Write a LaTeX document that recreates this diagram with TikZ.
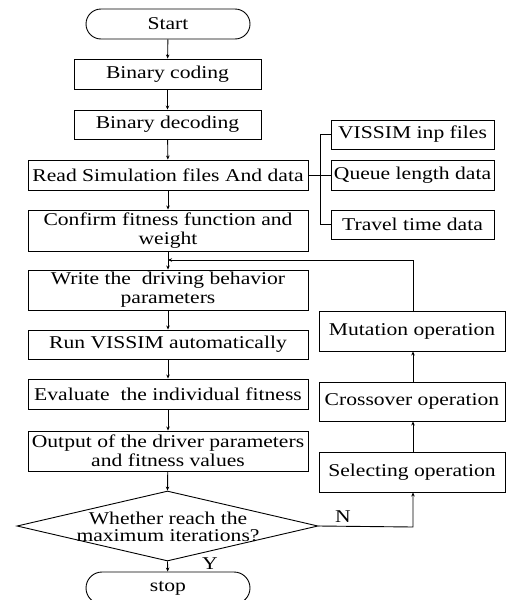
\documentclass[tikz,border=0pt]{standalone}
\usepackage{fontspec}
\setmainfont[FakeStretch=1.2]{Liberation Serif}
\usetikzlibrary{shapes.geometric,shapes.misc,arrows.meta}
\begin{document}
\begin{tikzpicture}[x=1pt,y=-1pt,
  every node/.style={font=\fontsize{18}{19}\selectfont},
  box/.style={draw,line width=0.9pt,inner sep=0pt,align=center,minimum width=#1},
  box/.default=280pt,
  term/.style={draw,line width=0.9pt,rounded rectangle,minimum width=164pt,minimum height=30pt,inner sep=0pt},
  dia/.style={draw,line width=0.9pt,diamond,minimum width=301pt,minimum height=70pt,inner sep=0pt},
  lbl/.style={inner sep=0pt},
  arr/.style={line width=0.9pt,-{Stealth[length=4pt,width=3.5pt]}},
  ln/.style={line width=0.9pt}]
\useasboundingbox (0,0) rectangle (512,600);
\node[term] (start) at (168,24) {Start};
\node[box=187pt,minimum height=30pt] (bc) at (167.5,74) {Binary coding};
\node[box=187pt,minimum height=29pt] (bd) at (167.5,124.5) {Binary decoding};
\node[box,minimum height=30pt] (read) at (168,175) {Read Simulation files And data};
\node[box=163pt,minimum height=29pt] (vis) at (412.5,134.5) {VISSIM inp files};
\node[box=163pt,minimum height=30pt] (queue) at (412.5,175) {Queue length data};
\node[box=163pt,minimum height=29pt] (travel) at (412.5,224.5) {Travel time data};
\node[box,minimum height=41pt] (conf) at (168,230.5) {Confirm fitness function and\\weight};
\node[box,minimum height=40pt] (write) at (168,290) {Write the\ \ driving behavior\\parameters};
\node[box,minimum height=29pt] (run) at (168,344.5) {Run VISSIM automatically};
\node[box,minimum height=30pt] (eval) at (168,394) {Evaluate\ \ the individual fitness};
\node[box,minimum height=40pt] (out) at (168,451) {Output of the driver parameters\\and fitness values};
\node[box=186pt,minimum height=40pt] (mut) at (412,331) {Mutation operation};
\node[box=186pt,minimum height=39pt] (cross) at (412,401.5) {Crossover operation};
\node[box=186pt,minimum height=40pt] (sel) at (412,472) {Selecting operation};
\node[dia] (dec) at (167.5,526) {};
\node[lbl,align=center,font=\fontsize{18}{17}\selectfont] (dectext) at (168,527) {Whether reach the\\maximum iterations?};
\node[term,minimum height=32pt] (stop) at (168,588) {stop};
\node[lbl] (nlab) at (343,517) {N};
\node[lbl] (ylab) at (210,564) {Y};
\coordinate (fb) at (168,260);
\coordinate (brx) at (320.5,0);
\coordinate (nx) at (413,527);
% main flow
\draw[arr] (start) -- (bc);
\draw[arr] (bc) -- (bd);
\draw[arr] (bd) -- (read);
\draw[arr] (read) -- (conf);
\draw[arr] (conf) -- (write);
\draw[arr] (write) -- (run);
\draw[arr] (run) -- (eval);
\draw[arr] (eval) -- (out);
\draw[arr] (out) -- (dec.north);
\draw[arr] (dec.south) -- (stop);
% data files
\draw[ln] (read) -- (queue);
\draw[ln] (vis.west) -- (vis.west -| brx) -- (travel.west -| brx) -- (travel.west);
% loop
\draw[arr] (dec.east) -- (nx) -- (sel.south -| nx);
\draw[arr] (sel.north -| nx) -- (cross.south -| nx);
\draw[arr] (cross.north -| nx) -- (mut.south -| nx);
\draw[arr] (mut.north -| nx) -- (nx |- fb) -- (fb);
\end{tikzpicture}
\end{document}
